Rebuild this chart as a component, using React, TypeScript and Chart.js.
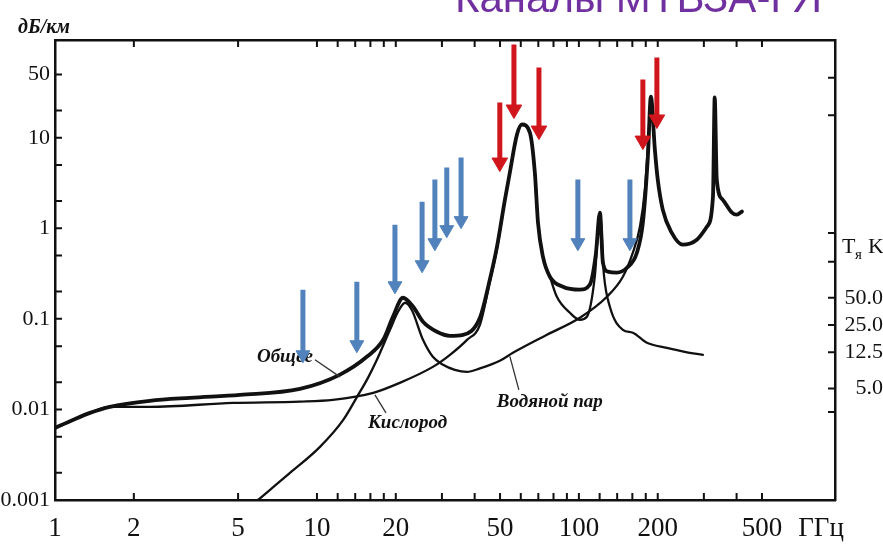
import React, { useEffect, useRef } from "react";
import { Chart, registerables } from "chart.js";

Chart.register(...registerables);

// ---- Curves (frequency in GHz, attenuation in dB/km) ----
const totalF = [1, 1.17, 1.36, 1.62, 2.3, 3.28, 5.08, 8.61, 12.2, 15.5, 17.9, 19.5, 21.3, 23.3, 25.4, 28.7, 32.2, 36.1, 41.9, 45.7, 48.6, 52.2, 54.5, 58.0, 60.6, 65.0, 67.9, 69.8, 72.9, 77.5, 86.9, 100.9, 110, 116, 120.3, 123.5, 129, 139.6, 152.5, 166.5, 175.5, 183.4, 188.3, 195, 200, 209, 226, 249, 282, 308, 325, 330, 336, 354, 384, 401, 419];
const totalV = [0.00625, 0.00766, 0.00916, 0.01067, 0.01243, 0.01343, 0.01449, 0.01687, 0.0241, 0.0381, 0.0587, 0.1054, 0.171, 0.136, 0.0929, 0.072, 0.065, 0.0667, 0.1028, 0.27, 0.611, 2.07, 4.12, 10.8, 14.0, 11.4, 4.12, 1.155, 0.486, 0.292, 0.2265, 0.21, 0.238, 0.512, 1.49, 0.417, 0.332, 0.324, 0.367, 0.538, 1.155, 6.2, 28.5, 7.41, 3.45, 1.61, 0.895, 0.659, 0.749, 1.04, 2.24, 27.8, 3.45, 2.07, 1.49, 1.415, 1.53];

const oxygenF = [1, 1.17, 1.36, 1.62, 2.3, 4.78, 8.6, 11.5, 16.4, 20.7, 27.7, 32.2, 37.4, 41.9, 45.7, 48.6, 52.2, 54.5, 58.0, 60.6, 65.0, 67.9, 69.8, 72.9, 77.5, 82.4, 92.4, 100.9, 107.3, 115, 120.3, 124.6, 131.3, 147.2, 160.7, 181.8, 216.7, 253.8, 297.4];
const oxygenV = [0.00625, 0.00766, 0.00916, 0.01067, 0.01067, 0.0118, 0.0122, 0.01275, 0.01524, 0.01965, 0.0295, 0.0401, 0.0587, 0.0861, 0.257, 0.58, 2.07, 4.12, 10.8, 14.0, 11.4, 4.12, 1.155, 0.486, 0.292, 0.1754, 0.1168, 0.0977, 0.1054, 0.292, 1.49, 0.307, 0.136, 0.0757, 0.0702, 0.0544, 0.0479, 0.0433, 0.0401];

const vaporF = [5.95, 7.89, 10.27, 12.6, 14.3, 15.66, 16.94, 19.0, 20.4, 21.7, 23.0, 25.4, 27.7, 30.3, 33.6, 37.4, 41.9, 49.9, 56.0, 75.5, 100.9, 127.9, 147.2, 160.7, 171, 178.6, 188.3];
const vaporV = [0.001, 0.00199, 0.00386, 0.00766, 0.01413, 0.02233, 0.0353, 0.0757, 0.1198, 0.1507, 0.126, 0.0587, 0.0381, 0.0311, 0.02735, 0.026, 0.0284, 0.0345, 0.0422, 0.0667, 0.1028, 0.1754, 0.292, 0.538, 1.04, 2.67, 28.5];

// ---- Channel arrows (frequency, top of shaft, arrow head) ----
const blueF = [8.84, 14.2, 19.85, 25.2, 28.2, 31.3, 35.5, 99.1, 156.6];
const blueTop = [0.21, 0.257, 1.097, 1.97, 3.45, 4.68, 6.04, 3.45, 3.45];
const blueHead = [0.0401, 0.0518, 0.232, 0.396, 0.693, 0.966, 1.215, 0.693, 0.693];

const redF = [49.9, 56.5, 70.4, 175.5, 198.5];
const redTop = [24.5, 107, 59.7, 44, 77];
const redHead = [5.32, 20.5, 12.0, 9.3, 15.9];

// ---- Curve labels and leader lines ----
const curveLabelText = ["Общее", "Кислород", "Водяной пар"];
const curveLabelF = [5.9, 15.66, 48.6];
const curveLabelV = [0.0381, 0.0071, 0.01212];
const leaderStartF = [9.83, 18.34, 59.0];
const leaderStartV = [0.0353, 0.00916, 0.01644];
const leaderEndF = [12.24, 16.65, 54.5];
const leaderEndV = [0.0229, 0.01449, 0.0385];

// ---- Axes ----
const xMin = 1;
const xMax = 950;
const yMin = 0.001;
const yMax = 120;
const y2Factor = 293;
const xTickValues = [1, 2, 5, 10, 12, 14, 16, 18, 20, 30, 40, 50, 60, 70, 80, 90, 100, 120, 140, 160, 180, 200, 300, 400, 500];
const xTickLabels = [1, 2, 5, 10, 20, 50, 100, 200, 500];
const yTickValues = [0.001, 0.002, 0.005, 0.01, 0.02, 0.05, 0.1, 0.2, 0.5, 1, 2, 5, 10, 20, 50];
const yTickLabels = [0.001, 0.01, 0.1, 1, 10, 50];
const y2TickValues = [2.75, 5, 12.5, 25, 50, 125, 260, 5200, 13500];
const y2TickLabels = [5, 12.5, 25, 50];

const SERIF = '"Liberation Serif", "Times New Roman", serif';
const SANS = '"Liberation Sans", Arial, sans-serif';
const BLUE = "#5282BC";
const RED = "#D0161C";
const INK = "#111111";

function pts(fs: number[], vs: number[]) {
  return fs.map((f, i) => ({ x: f, y: vs[i] }));
}

const decor = {
  id: "decor",
  beforeDatasetsDraw(chart: any) {
    const { ctx, scales } = chart;
    ctx.save();
    ctx.fillStyle = INK;
    ctx.font = `italic bold 19px ${SERIF}`;
    ctx.textAlign = "left";
    ctx.textBaseline = "middle";
    curveLabelText.forEach((t, i) => {
      ctx.fillText(t, scales.x.getPixelForValue(curveLabelF[i]), scales.y.getPixelForValue(curveLabelV[i]));
    });
    ctx.restore();
  },
  afterDraw(chart: any) {
    const { ctx, chartArea: a, scales } = chart;
    ctx.save();
    ctx.strokeStyle = INK;
    ctx.lineWidth = 2;
    ctx.beginPath();
    scales.x.ticks.forEach((t: any) => {
      const px = scales.x.getPixelForValue(t.value);
      if (px <= a.left + 1) return;
      ctx.moveTo(px, a.bottom);
      ctx.lineTo(px, a.bottom - 7);
      ctx.moveTo(px, a.top);
      ctx.lineTo(px, a.top + 7);
    });
    scales.y.ticks.forEach((t: any) => {
      const py = scales.y.getPixelForValue(t.value);
      if (py >= a.bottom - 1) return;
      ctx.moveTo(a.left, py);
      ctx.lineTo(a.left + 7, py);
    });
    scales.y2.ticks.forEach((t: any) => {
      const py = scales.y2.getPixelForValue(t.value);
      ctx.moveTo(a.right, py);
      ctx.lineTo(a.right - 7, py);
    });
    ctx.stroke();

    // Title (cut at the top of the page)
    ctx.fillStyle = "#7030A0";
    ctx.font = `42px ${SANS}`;
    ctx.textAlign = "left";
    ctx.textBaseline = "alphabetic";
    ctx.fillText("Каналы МТВЗА-ГЯ", 455, 12);

    // Unit of the left axis
    ctx.fillStyle = INK;
    ctx.font = `italic bold 20px ${SERIF}`;
    ctx.textBaseline = "middle";
    ctx.fillText("дБ/км", 18, 28);

    // Unit of the right axis
    ctx.textBaseline = "alphabetic";
    ctx.font = `22px ${SERIF}`;
    ctx.fillText("T", a.right + 7, 253);
    ctx.font = `15px ${SERIF}`;
    ctx.fillText("я", a.right + 20, 259);
    ctx.font = `22px ${SERIF}`;
    ctx.fillText("K", a.right + 33, 253);

    // Unit of the x axis
    ctx.font = `27px ${SERIF}`;
    ctx.textBaseline = "middle";
    const x500 = scales.x.getPixelForValue(500);
    const w = ctx.measureText("500").width;
    ctx.fillText("ГГц", x500 + w / 2 + 16, a.bottom + 13 + 16.2);
    ctx.restore();
  },
};

export default function App() {
  const ref = useRef<HTMLCanvasElement>(null);
  useEffect(() => {
    const canvas = ref.current;
    if (!canvas) return;

    const arrowSets: any[] = [];
    redF.forEach((f, i) => {
      arrowSets.push({
        data: [{ x: f, y: redTop[i] }, { x: f, y: redHead[i] }],
        borderColor: RED,
        backgroundColor: RED,
        borderWidth: 5,
        borderCapStyle: "butt",
        pointRadius: [0, 9],
        pointHoverRadius: 0,
        pointStyle: "triangle",
        pointRotation: 180,
        pointBackgroundColor: RED,
        pointBorderColor: RED,
        pointBorderWidth: 1,
      });
    });
    blueF.forEach((f, i) => {
      arrowSets.push({
        data: [{ x: f, y: blueTop[i] }, { x: f, y: blueHead[i] }],
        borderColor: BLUE,
        backgroundColor: BLUE,
        borderWidth: 5,
        borderCapStyle: "butt",
        pointRadius: [0, 8],
        pointHoverRadius: 0,
        pointStyle: "triangle",
        pointRotation: 180,
        pointBackgroundColor: BLUE,
        pointBorderColor: BLUE,
        pointBorderWidth: 1,
      });
    });
    const leaderSets = leaderStartF.map((f, i) => ({
      data: [{ x: f, y: leaderStartV[i] }, { x: leaderEndF[i], y: leaderEndV[i] }],
      borderColor: "#333",
      borderWidth: 1.3,
      pointRadius: 0,
    }));
    const curve = (fs: number[], vs: number[], width: number) => ({
      data: pts(fs, vs),
      borderColor: INK,
      borderWidth: width,
      pointRadius: 0,
      cubicInterpolationMode: "monotone",
      borderJoinStyle: "round",
      borderCapStyle: "round",
    });

    const chart = new Chart(canvas, {
      type: "line",
      data: {
        datasets: [
          ...arrowSets,
          ...leaderSets,
          curve(totalF, totalV, 3.8),
          curve(oxygenF, oxygenV, 2.3),
          curve(vaporF, vaporV, 2.3),
        ],
      },
      options: {
        animation: false,
        responsive: false,
        events: [],
        layout: { padding: 0 },
        plugins: {
          legend: { display: false },
          tooltip: { enabled: false },
          title: { display: false },
        },
        scales: {
          x: {
            type: "logarithmic",
            position: "bottom",
            min: xMin,
            max: xMax,
            grid: { display: false, drawTicks: false },
            border: { display: true, color: INK, width: 2.5 },
            ticks: {
              autoSkip: false,
              maxRotation: 0,
              minRotation: 0,
              padding: 13,
              color: INK,
              font: { family: SERIF, size: 27 },
              callback: (v: any) => (xTickLabels.includes(Number(v)) ? String(v) : ""),
            },
            afterBuildTicks: (s: any) => {
              s.ticks = xTickValues.map((v) => ({ value: v }));
            },
            afterFit: (s: any) => {
              s.height = 45;
            },
          },
          x2: {
            type: "logarithmic",
            position: "top",
            min: xMin,
            max: xMax,
            grid: { display: false, drawTicks: false },
            border: { display: true, color: INK, width: 2.5 },
            ticks: { display: false },
            afterBuildTicks: (s: any) => {
              s.ticks = xTickValues.map((v) => ({ value: v }));
            },
            afterFit: (s: any) => {
              s.height = 40;
            },
          },
          y: {
            type: "logarithmic",
            position: "left",
            min: yMin,
            max: yMax,
            grid: { display: false, drawTicks: false },
            border: { display: true, color: INK, width: 2.5 },
            ticks: {
              autoSkip: false,
              padding: 5,
              color: INK,
              font: { family: SERIF, size: 22 },
              callback: (v: any) => (yTickLabels.includes(Number(v)) ? String(v) : ""),
            },
            afterBuildTicks: (s: any) => {
              s.ticks = yTickValues.map((v) => ({ value: v }));
            },
            afterFit: (s: any) => {
              s.width = 55;
            },
          },
          y2: {
            type: "logarithmic",
            position: "right",
            min: yMin * y2Factor,
            max: yMax * y2Factor,
            grid: { display: false, drawTicks: false },
            border: { display: true, color: INK, width: 2.5 },
            ticks: {
              autoSkip: false,
              padding: 3,
              crossAlign: "far",
              color: INK,
              font: { family: SERIF, size: 22 },
              callback: (v: any) => (y2TickLabels.includes(Number(v)) ? Number(v).toFixed(1) : ""),
            },
            afterBuildTicks: (s: any) => {
              s.ticks = y2TickValues.map((v) => ({ value: v }));
            },
            afterFit: (s: any) => {
              s.width = 48;
            },
          },
        },
      } as any,
      plugins: [decor],
    } as any);
    return () => chart.destroy();
  }, []);

  return (
    <div style={{ position: "absolute", left: 0, top: 0, width: 883, height: 545, background: "#fff", overflow: "hidden" }}>
      <canvas ref={ref} width={883} height={545} style={{ display: "block" }} />
    </div>
  );
}
